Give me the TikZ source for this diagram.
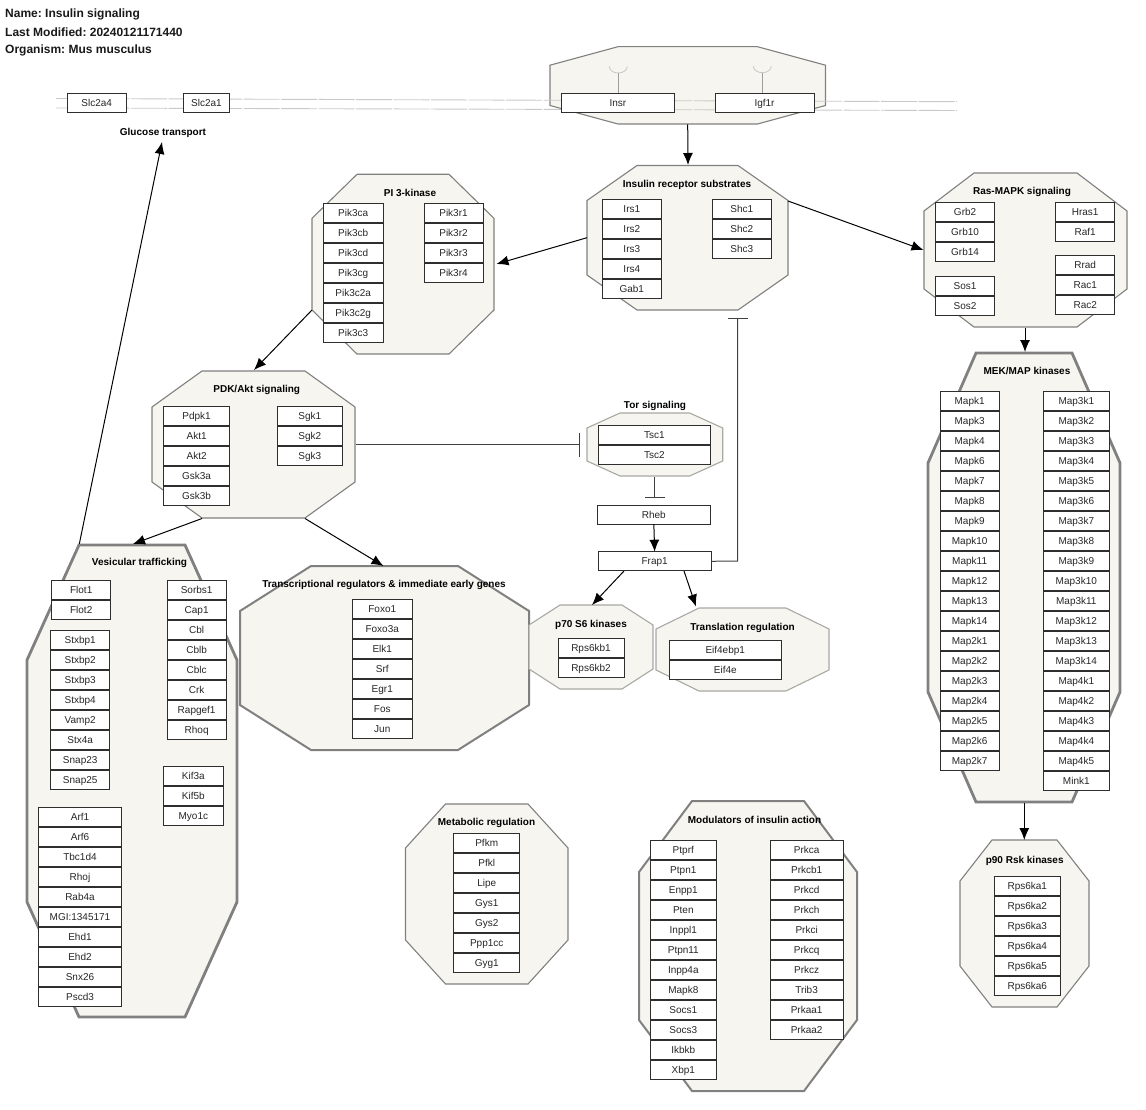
\documentclass[tikz,border=0pt]{standalone}
\usepackage{fontspec}
\setmainfont{Liberation Sans}
\usetikzlibrary{arrows.meta}
\frenchspacing
\definecolor{grpfill}{HTML}{F6F5EF}
\definecolor{grpline}{HTML}{808080}
\definecolor{grplight}{HTML}{A8A8A4}
\definecolor{boxline}{HTML}{2E2E2E}
\definecolor{memline}{HTML}{C9C9C9}
\tikzset{
  x=1pt,y=-1pt,
  genebox/.style={draw=boxline,fill=white,line width=1pt,inner sep=0pt,outer sep=0pt,
    font=\fontsize{10}{12}\selectfont,text=black!85,text height=7.2pt,text depth=0pt,align=center},
  grpthin/.style={draw=grpline,fill=grpfill,line width=1.1pt},
  grpfaint/.style={draw=grplight,fill=grpfill,line width=1.1pt},
  grpmid/.style={draw=grpline,fill=grpfill,line width=2pt},
  grpthick/.style={draw=grpline,fill=grpfill,line width=2.8pt},
  grouplabel/.style={font=\fontsize{10}{12}\selectfont\bfseries,text=black,inner sep=0pt},
  headline/.style={font=\fontsize{12}{14}\selectfont\bfseries,text=black!90,inner sep=0pt,anchor=west},
  activates/.style={draw=black,line width=1pt,-{Latex[length=12pt,width=10pt]}},
  inhibits/.style={draw=black!75,line width=1pt,-{Bar[width=#1,line width=1pt]}},
  membrane/.style={draw=memline,line width=0.9pt,dash pattern=on 36pt off 1.5pt},
  stemline/.style={draw=black!38,line width=1pt},
  cupline/.style={draw=black!22,line width=0.8pt},
}
% octagon: #1 style, #2 x1, #3 y1, #4 x2, #5 y2, #6 chamfer x, #7 chamfer y
\newcommand{\octagroup}[7]{%
  \path[#1] (#2+#6,#3) -- (#4-#6,#3) -- (#4,#3+#7) -- (#4,#5-#7) -- (#4-#6,#5)
    -- (#2+#6,#5) -- (#2,#5-#7) -- (#2,#3+#7) -- cycle;}
% stack: #1 prefix, #2 x1, #3 x2, #4 top y, #5 list
\newcommand{\genestack}[5]{%
  \foreach \gname [count=\gi] in {#5} {%
    \pgfmathsetmacro{\gw}{#3-#2}%
    \pgfmathsetmacro{\gcx}{(#2+#3)/2}%
    \pgfmathsetmacro{\gcy}{#4+9.6+(\gi-1)*20}%
    \node[genebox,minimum width=\gw pt,minimum height=19.2pt] (#1\gi) at (\gcx,\gcy) {\gname};
  }}
\begin{document}
\begin{tikzpicture}
\useasboundingbox (0,0) rectangle (1146,1110);

% headers
\node[headline] (hname) at (5,14.6) {Name: Insulin signaling};
\node[headline] (hmod) at (5,32.6) {Last Modified: 20240121171440};
\node[headline] (horg) at (5,50.6) {Organism: Mus musculus};

% groups
\octagroup{grpthin}{550}{46.7}{825.5}{124}{68}{18.5}
\octagroup{grpthin}{312}{174.3}{494}{354}{45}{44}
\octagroup{grpthin}{587}{165.5}{788}{310}{50}{35}
\octagroup{grpthin}{924}{173}{1127}{327}{50}{38}
\octagroup{grpthick}{928}{353}{1120}{802}{48}{110}
\octagroup{grpthin}{960}{840}{1089}{1007}{32}{41}
\octagroup{grpthin}{152}{371}{355}{518}{50}{36}
\octagroup{grpthick}{27}{545}{237}{1017}{52}{115}
\octagroup{grpmid}{240}{566}{529}{750}{71}{45}
\octagroup{grpfaint}{529}{605}{653}{689}{31}{20}
\octagroup{grpfaint}{656}{608}{829}{691}{43}{21}
\octagroup{grpfaint}{587}{413}{722.7}{476}{33}{15}
\octagroup{grpthin}{405.5}{804}{568}{984}{40}{44}
\octagroup{grpmid}{639}{801}{857}{1091}{53}{71}

% membrane
\coordinate (memAl) at (56,98.5);
\coordinate (memAr) at (957,101.7);
\coordinate (memBl) at (56,108);
\coordinate (memBr) at (957,110.5);
\draw[membrane] (memAl) -- (memAr);
\draw[membrane] (memBl) -- (memBr);

% receptor stems and cups
\coordinate (cupI) at (618.3,73);
\coordinate (cupG) at (762.3,72.7);
\draw[cupline] (cupI) ++(-9,-6.5) arc[start angle=180,end angle=0,x radius=9,y radius=6.5];
\draw[cupline] (cupG) ++(-9,-6.5) arc[start angle=180,end angle=0,x radius=9,y radius=6.5];

% gene boxes
\genestack{slcA}{67}{126.5}{93.5}{Slc2a4}
\genestack{slcB}{183.5}{229.5}{93.5}{Slc2a1}
\genestack{insr}{561.7}{674}{93.5}{Insr}
\genestack{igfr}{715}{814}{93.5}{Igf1r}
\draw[stemline] (cupI) -- (insr1.north -| cupI);
\draw[stemline] (cupG) -- (igfr1.north -| cupG);
\genestack{pika}{323.5}{383}{203.5}{Pik3ca,Pik3cb,Pik3cd,Pik3cg,Pik3c2a,Pik3c2g,Pik3c3}
\genestack{pikr}{424}{483}{203.5}{Pik3r1,Pik3r2,Pik3r3,Pik3r4}
\genestack{irs}{602.3}{661.3}{199.3}{Irs1,Irs2,Irs3,Irs4,Gab1}
\genestack{shc}{712.3}{771.3}{199.3}{Shc1,Shc2,Shc3}
\genestack{grb}{935.5}{994.7}{202.3}{Grb2,Grb10,Grb14}
\genestack{sos}{935.5}{994.7}{276}{Sos1,Sos2}
\genestack{hras}{1055.7}{1114.7}{202.3}{Hras1,Raf1}
\genestack{rrad}{1055.7}{1114.7}{255.7}{Rrad,Rac1,Rac2}
\genestack{mapk}{940}{999.3}{391.7}{Mapk1,Mapk3,Mapk4,Mapk6,Mapk7,Mapk8,Mapk9,Mapk10,Mapk11,Mapk12,Mapk13,Mapk14,Map2k1,Map2k2,Map2k3,Map2k4,Map2k5,Map2k6,Map2k7}
\genestack{mapt}{1043.3}{1109.3}{391.7}{Map3k1,Map3k2,Map3k3,Map3k4,Map3k5,Map3k6,Map3k7,Map3k8,Map3k9,Map3k10,Map3k11,Map3k12,Map3k13,Map3k14,Map4k1,Map4k2,Map4k3,Map4k4,Map4k5,Mink1}
\genestack{rsk}{994.3}{1060.3}{876.3}{Rps6ka1,Rps6ka2,Rps6ka3,Rps6ka4,Rps6ka5,Rps6ka6}
\genestack{pdk}{163.5}{229.7}{406.7}{Pdpk1,Akt1,Akt2,Gsk3a,Gsk3b}
\genestack{sgk}{277}{342.7}{406.7}{Sgk1,Sgk2,Sgk3}
\genestack{tsc}{598.3}{710.7}{425}{Tsc1,Tsc2}
\genestack{rheb}{597.7}{710}{505}{Rheb}
\genestack{frap}{598.3}{711}{551.7}{Frap1}
\genestack{flot}{51.7}{110.7}{580.7}{Flot1,Flot2}
\genestack{stx}{50.7}{109.7}{630.7}{Stxbp1,Stxbp2,Stxbp3,Stxbp4,Vamp2,Stx4a,Snap23,Snap25}
\genestack{sorb}{167}{226.3}{580.7}{Sorbs1,Cap1,Cbl,Cblb,Cblc,Crk,Rapgef1,Rhoq}
\genestack{kif}{163.7}{223}{766.7}{Kif3a,Kif5b,Myo1c}
\genestack{arf}{38.7}{121.3}{807}{Arf1,Arf6,Tbc1d4,Rhoj,Rab4a,MGI:1345171,Ehd1,Ehd2,Snx26,Pscd3}
\genestack{foxo}{352.5}{412}{599.3}{Foxo1,Foxo3a,Elk1,Srf,Egr1,Fos,Jun}
\genestack{sixk}{558}{624}{638.3}{Rps6kb1,Rps6kb2}
\genestack{eif}{669}{781.5}{640.3}{Eif4ebp1,Eif4e}
\genestack{pfk}{453.7}{519.7}{833.3}{Pfkm,Pfkl,Lipe,Gys1,Gys2,Ppp1cc,Gyg1}
\genestack{ptp}{650.3}{716.3}{840.3}{Ptprf,Ptpn1,Enpp1,Pten,Inppl1,Ptpn11,Inpp4a,Mapk8,Socs1,Socs3,Ikbkb,Xbp1}
\genestack{prk}{770.3}{843}{840.3}{Prkca,Prkcb1,Prkcd,Prkch,Prkci,Prkcq,Prkcz,Trib3,Prkaa1,Prkaa2}

% group labels
\node[grouplabel] (lglu) at (163,133.2) {Glucose transport};
\node[grouplabel] (lpi) at (410,193.2) {PI 3-kinase};
\node[grouplabel] (lirs) at (687,185.2) {Insulin receptor substrates};
\node[grouplabel] (lras) at (1022,192.2) {Ras-MAPK signaling};
\node[grouplabel] (lmek) at (1027,371.2) {MEK/MAP kinases};
\node[grouplabel] (lpdk) at (256.7,390) {PDK/Akt signaling};
\node[grouplabel] (ltor) at (655,406.3) {Tor signaling};
\node[grouplabel] (lves) at (139.5,563) {Vesicular trafficking};
\node[grouplabel] (ltrx) at (384,585) {Transcriptional regulators \& immediate early genes};
\node[grouplabel] (lsix) at (591,625.3) {p70 S6 kinases};
\node[grouplabel] (ltrl) at (742.5,628.3) {Translation regulation};
\node[grouplabel] (lmet) at (486.5,823) {Metabolic regulation};
\node[grouplabel] (lmod) at (754.5,820) {Modulators of insulin action};
\node[grouplabel] (lrsk) at (1024.7,860.6) {p90 Rsk kinases};

% connector end points on group borders
\coordinate (recS) at (687.7,124.5);
\coordinate (irsN) at (688,165);
\coordinate (irsW) at (587,237.7);
\coordinate (piE) at (496.5,264);
\coordinate (irsE) at (788,201);
\coordinate (rasW) at (923.5,250);
\coordinate (piSW) at (312,310);
\coordinate (pdkN) at (254,370);
\coordinate (vesNW) at (79.3,544);
\coordinate (gluS) at (162,142);
\coordinate (pdkSW) at (202,518.5);
\coordinate (vesN) at (133,544);
\coordinate (pdkSE) at (305,518.5);
\coordinate (trxN) at (383.5,566);
\coordinate (pdkE) at (356,444.5);
\coordinate (torW) at (580,444.5);
\coordinate (torS) at (654.5,477);
\coordinate (rhebT) at (654.5,498);
\coordinate (irsS) at (737.7,317.5);
\coordinate (frapBend) at (737.7,561);
\coordinate (sixN) at (592,605);
\coordinate (frapSL) at (624,571);
\coordinate (frapSR) at (684,571);
\coordinate (trlN) at (696,606.5);
\coordinate (rasS) at (1025,328);
\coordinate (mekN) at (1025,352);
\coordinate (mekS) at (1024.3,803);
\coordinate (rskN) at (1024.3,840);

% connectors
\draw[activates] (recS) -- (irsN);
\draw[activates] (irsW) -- (piE);
\draw[activates] (irsE) -- (rasW);
\draw[activates] (piSW) -- (pdkN);
\draw[activates] (vesNW) -- (gluS);
\draw[activates] (pdkSW) -- (vesN);
\draw[activates] (pdkSE) -- (trxN);
\draw[inhibits=24pt] (pdkE) -- (torW);
\draw[inhibits=20pt] (torS) -- (rhebT);
\draw[activates] (rheb1.south) -- (frap1.north);
\draw[inhibits=20pt] (frap1.east) -- (frapBend) -- (irsS);
\draw[activates] (frapSL) -- (sixN);
\draw[activates] (frapSR) -- (trlN);
\draw[activates] (rasS) -- (mekN);
\draw[activates] (mekS) -- (rskN);
\end{tikzpicture}
\end{document}
